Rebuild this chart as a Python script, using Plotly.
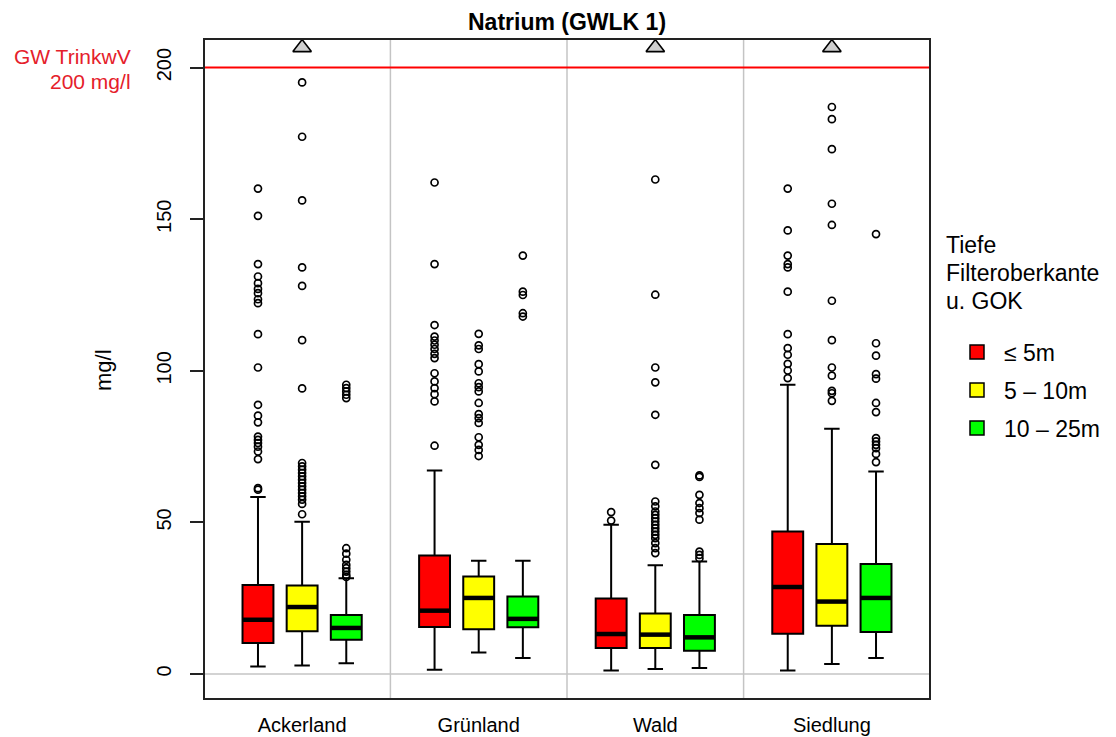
import plotly.graph_objects as go

# --- Daten -----------------------------------------------------------------
landnutzung = ["Ackerland", "Grünland", "Wald", "Siedlung"]
tiefenklassen = ["≤ 5m", "5 – 10m", "10 – 25m"]
farben = ["#ff0000", "#ffff00", "#00ff00"]

# Boxplot-Kennwerte in mg/l: Zeilen = Tiefenklasse, Spalten = Landnutzung
whisker_unten = [[2.5, 1.4, 1.2, 1.2], [2.8, 7.1, 1.7, 3.3], [3.6, 5.3, 2.0, 5.3]]
quartil_1 = [[10.2, 15.5, 8.6, 13.3], [14.1, 14.8, 8.6, 15.9], [11.3, 15.4, 7.7, 13.9]]
median = [[17.9, 20.9, 13.2, 28.7], [22.1, 25.1, 13.0, 23.9], [15.2, 18.2, 12.1, 25.1]]
quartil_3 = [[29.4, 39.1, 24.9, 47.0], [29.2, 32.2, 20.0, 42.9], [19.5, 25.6, 19.5, 36.3]]
whisker_oben = [[58.4, 67.1, 49.2, 95.4], [50.2, 37.4, 35.9, 80.9], [31.6, 37.4, 37.1, 66.8]]

# Ausreisser je Landnutzung, eine Liste je Tiefenklasse
ausreisser_ackerland = [
    [160.1, 151.1, 135.2, 131.1, 128.9, 127.0, 125.6, 123.6, 122.3, 112.1, 101.1,
     88.8, 85.2, 83.0, 78.3, 77.2, 76.2, 75.0, 73.4, 70.9, 61.3, 60.8],
    [195.1, 177.2, 156.2, 134.1, 128.0, 110.1, 94.2, 69.6, 68.5, 67.4, 66.3, 65.2,
     64.1, 63.0, 61.9, 60.8, 59.7, 58.6, 57.5, 56.1, 52.7],
    [95.4, 94.3, 93.2, 92.1, 91.0, 41.5, 39.7, 37.7, 36.0, 34.9, 33.8, 32.7, 32.0],
]
ausreisser_gruenland = [
    [162.1, 135.2, 115.1, 111.3, 110.0, 108.6, 107.2, 105.6, 104.2, 99.2, 96.5,
     94.3, 92.3, 89.9, 75.3],
    [112.2, 108.4, 107.2, 102.2, 99.8, 95.9, 94.6, 93.2, 89.4, 85.7, 84.4, 82.8,
     78.1, 75.6, 73.9, 71.9],
    [138.0, 126.1, 125.0, 119.0, 117.9],
]
ausreisser_wald = [
    [53.4, 50.6],
    [163.1, 125.1, 101.1, 96.2, 85.5, 69.0, 56.9, 55.3, 53.6, 52.5, 51.4, 50.3,
     49.2, 48.1, 47.0, 45.9, 44.8, 43.2, 41.5, 39.9],
    [65.5, 65.0, 59.1, 56.4, 54.7, 53.1, 50.9, 40.4, 39.3, 38.2],
]
ausreisser_siedlung = [
    [160.1, 146.3, 138.0, 135.2, 134.1, 126.1, 112.1, 107.5, 105.3, 102.3, 100.1, 97.6],
    [187.0, 183.0, 173.1, 155.1, 148.1, 123.1, 110.1, 101.1, 98.4, 93.4, 92.6, 90.1],
    [145.1, 109.1, 105.0, 98.9, 97.4, 89.4, 86.4, 77.8, 76.7, 75.6, 74.5, 72.6, 69.9],
]

# Werte oberhalb der Achse (> Grenzwert) je Tiefenklasse und Landnutzung
ueber_achse = [[False, False, False, False],
               [True, False, True, True],
               [False, False, False, False]]

grenzwert = 200
y_ticks = [0, 50, 100, 150, 200]

# --- Layout-Konstanten -----------------------------------------------------
W, H = 1116, 737
L, R, T, B = 205, 187, 40, 39
PW, PH = W - L - R, H - T - B
FONT = "Liberation Sans, Arial, sans-serif"
BOX_W = 0.7
TRI_Y = 206.6


def px_x(px):
    return (px - L) / PW


def px_y(py):
    return (T + PH - py) / PH


def pos(gruppe, klasse):
    return gruppe * 4 + klasse + 1


fig = go.Figure()

# Boxen je Tiefenklasse
for k in range(3):
    xs = [pos(g, k) for g in range(4)]
    fig.add_trace(go.Box(
        x=xs, q1=quartil_1[k], median=median[k], q3=quartil_3[k],
        lowerfence=whisker_unten[k], upperfence=whisker_oben[k],
        width=BOX_W, whiskerwidth=0.5, fillcolor=farben[k],
        line=dict(color="black", width=2), boxpoints=False,
        showlegend=False, hoverinfo="skip",
    ))

# kräftige Medianlinien
mx, my = [], []
for k in range(3):
    for g in range(4):
        p = pos(g, k)
        mx += [p - BOX_W / 2, p + BOX_W / 2, None]
        my += [median[k][g], median[k][g], None]
fig.add_trace(go.Scatter(x=mx, y=my, mode="lines", line=dict(color="black", width=4.5),
                         showlegend=False, hoverinfo="skip"))

# Ausreisser
ox, oy = [], []
for g, gruppe in enumerate([ausreisser_ackerland, ausreisser_gruenland,
                            ausreisser_wald, ausreisser_siedlung]):
    for k in range(3):
        ox += [pos(g, k)] * len(gruppe[k])
        oy += gruppe[k]
fig.add_trace(go.Scatter(
    x=ox, y=oy, mode="markers",
    marker=dict(symbol="circle-open", size=7, color="black", line=dict(width=1.7)),
    showlegend=False, hoverinfo="skip"))

# Dreiecke für Werte über dem Achsenbereich
tx = [pos(g, k) for k in range(3) for g in range(4) if ueber_achse[k][g]]
fig.add_trace(go.Scatter(
    x=tx, y=[TRI_Y] * len(tx), mode="markers", cliponaxis=False,
    marker=dict(symbol="triangle-up", size=16, color="#d0d0d0",
                line=dict(color="black", width=1.6)),
    showlegend=False, hoverinfo="skip"))

shapes = []
# Trennlinien zwischen den Landnutzungen
for g in range(1, 4):
    shapes.append(dict(type="line", xref="x", yref="paper", x0=g * 4, x1=g * 4, y0=0, y1=1,
                       line=dict(color="#c4c4c4", width=1.5), layer="below"))
# Nulllinie und Grenzwert
shapes.append(dict(type="line", xref="paper", yref="y", x0=0, x1=1, y0=0, y1=0,
                   line=dict(color="#c4c4c4", width=1.5), layer="below"))
shapes.append(dict(type="line", xref="paper", yref="y", x0=0, x1=1, y0=grenzwert, y1=grenzwert,
                   line=dict(color="#ff0000", width=2), layer="below"))

annotations = [
    dict(text="<b>Natrium (GWLK 1)</b>", xref="paper", yref="paper", x=0.5, y=px_y(22),
         xanchor="center", yanchor="middle", showarrow=False,
         font=dict(family=FONT, size=23, color="black")),
    dict(text="GW TrinkwV", xref="paper", yref="paper", x=px_x(133), y=px_y(56),
         xanchor="right", yanchor="middle", showarrow=False,
         font=dict(family=FONT, size=21, color="#e5202a")),
    dict(text="200 mg/l", xref="paper", yref="paper", x=px_x(133), y=px_y(81),
         xanchor="right", yanchor="middle", showarrow=False,
         font=dict(family=FONT, size=21, color="#e5202a")),
    dict(text="mg/l", xref="paper", yref="paper", x=px_x(103), y=px_y(370),
         xanchor="center", yanchor="middle", showarrow=False, textangle=-90,
         font=dict(family=FONT, size=22, color="black")),
]

# Legende
for i, zeile in enumerate(["Tiefe", "Filteroberkante", "u. GOK"]):
    annotations.append(dict(text=zeile, xref="paper", yref="paper", x=px_x(944),
                            y=px_y(245 + 28 * i), xanchor="left", yanchor="middle",
                            showarrow=False, font=dict(family=FONT, size=23, color="black")))
for k in range(3):
    cy = 352 + 38 * k
    shapes.append(dict(type="rect", xref="paper", yref="paper",
                       x0=px_x(970), x1=px_x(984), y0=px_y(cy + 7), y1=px_y(cy - 7),
                       fillcolor=farben[k], line=dict(color="black", width=1.5)))
    annotations.append(dict(text=tiefenklassen[k], xref="paper", yref="paper", x=px_x(1002),
                            y=px_y(cy + 1), xanchor="left", yanchor="middle", showarrow=False,
                            font=dict(family=FONT, size=23, color="black")))

fig.update_layout(
    width=W, height=H, margin=dict(l=L, r=R, t=T, b=B, autoexpand=False),
    paper_bgcolor="white", plot_bgcolor="white",
    shapes=shapes, annotations=annotations, boxmode="overlay",
    xaxis=dict(range=[-0.2, 16.2], tickvals=[pos(g, 1) for g in range(4)],
               ticktext=landnutzung, ticks="", ticklabelstandoff=8, automargin=False,
               showgrid=False, zeroline=False,
               showline=True, mirror=True, linecolor="#222", linewidth=1.8,
               tickfont=dict(family=FONT, size=20, color="black")),
    yaxis=dict(range=[-7.9, 209.1], tickvals=y_ticks, tickangle=-90,
               ticks="outside", ticklen=13, tickwidth=1.6, tickcolor="#222",
               ticklabelstandoff=11, automargin=False,
               showgrid=False, zeroline=False,
               showline=True, mirror=True, linecolor="#222", linewidth=1.8,
               tickfont=dict(family=FONT, size=20, color="black")),
)

fig.write_html("out.html")
